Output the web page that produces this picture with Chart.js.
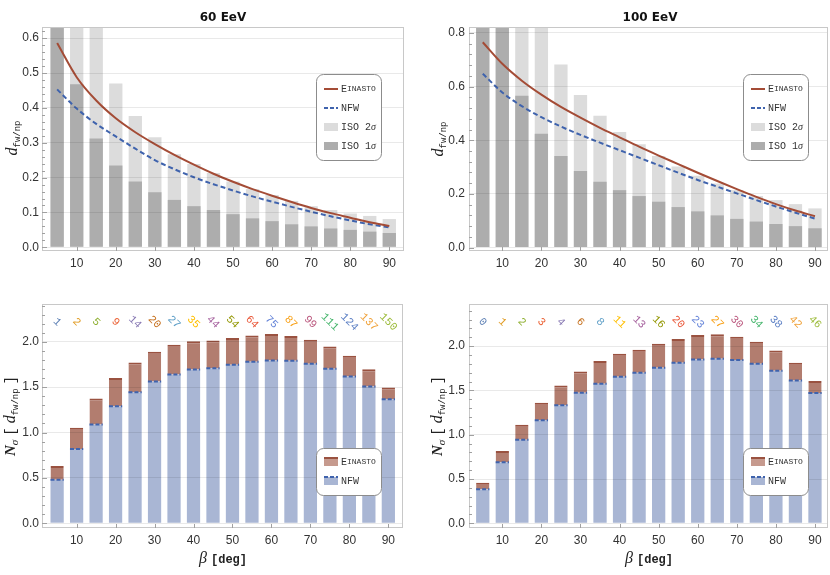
<!DOCTYPE html>
<html>
<head>
<meta charset="utf-8">
<script src="https://cdn.jsdelivr.net/npm/chart.js@4.4.1/dist/chart.umd.min.js"></script>
<style>
  body { margin: 0; background: #fff; width: 830px; height: 575px; position: relative; overflow: hidden; }
  .panel { position: absolute; }
  .ttl { position: absolute; transform: translate(-50%, -50%); font: bold 12px "DejaVu Sans", sans-serif; color: #111; white-space: nowrap; }
  .yl { position: absolute; transform: translate(-50%, -50%) rotate(-90deg); white-space: nowrap; color: #222; line-height: 12px; }
  .xl { position: absolute; transform: translate(-50%, -50%); white-space: nowrap; color: #222; }
  .it { font: italic 16px "Liberation Serif", serif; }
  .itb { font: italic bold 15px "Liberation Serif", serif; }
  .br { font: 14px "Liberation Mono", monospace; }
  .mono { font: bold 12px "Liberation Mono", monospace; }
  sub { font: 9px "Liberation Mono", monospace; vertical-align: -3px; line-height: 0; }
  sub.s { font: italic 11px "Liberation Serif", serif; }
</style>
</head>
<body>

<canvas id="c60" class="panel" width="415" height="280" style="left:0;top:0"></canvas>
<canvas id="c100" class="panel" width="415" height="280" style="left:415px;top:0"></canvas>
<canvas id="n60" class="panel" width="415" height="295" style="left:0;top:280px"></canvas>
<canvas id="n100" class="panel" width="415" height="295" style="left:415px;top:280px"></canvas>

<div class="ttl" style="left:223px;top:17px">60 EeV</div>
<div class="ttl" style="left:650px;top:17px">100 EeV</div>

<div class="yl" style="left:12px;top:138px"><span class="it">d</span><sub>fw/np</sub></div>
<div class="yl" style="left:438px;top:139px"><span class="it">d</span><sub>fw/np</sub></div>
<div class="yl" style="left:10px;top:416px"><span class="itb">N</span><sub class="s">σ</sub> <span class="br">[</span> <span class="it">d</span><sub>fw/np</sub> <span class="br">]</span></div>
<div class="yl" style="left:437px;top:416px"><span class="itb">N</span><sub class="s">σ</sub> <span class="br">[</span> <span class="it">d</span><sub>fw/np</sub> <span class="br">]</span></div>

<div class="xl" style="left:223px;top:558px"><span class="it">β</span> <span class="mono">[deg]</span></div>
<div class="xl" style="left:649px;top:558px"><span class="it">β</span> <span class="mono">[deg]</span></div>

<script>
// opening angle beta (deg)
const beta = [5, 10, 15, 20, 25, 30, 35, 40, 45, 50, 55, 60, 65, 70, 75, 80, 85, 90];
const xTickVals = [10, 20, 30, 40, 50, 60, 70, 80, 90];

// 60 EeV, d_fw/np
const iso1_60 = [0.94, 0.468, 0.312, 0.235, 0.189, 0.158, 0.136, 0.118, 0.107, 0.095, 0.083, 0.075, 0.066, 0.060, 0.054, 0.050, 0.045, 0.041];
const iso2_60 = [1.88, 0.94, 0.64, 0.470, 0.377, 0.316, 0.267, 0.239, 0.213, 0.189, 0.167, 0.150, 0.133, 0.118, 0.107, 0.097, 0.090, 0.081];
const ein_60 = [0.586, 0.488, 0.421, 0.370, 0.330, 0.296, 0.265, 0.237, 0.211, 0.188, 0.167, 0.148, 0.130, 0.113, 0.098, 0.085, 0.072, 0.061];
const nfw_60 = [0.453, 0.398, 0.354, 0.318, 0.283, 0.250, 0.224, 0.201, 0.181, 0.163, 0.146, 0.131, 0.116, 0.102, 0.089, 0.077, 0.066, 0.057];
const yTicks60 = [0, 0.1, 0.2, 0.3, 0.4, 0.5, 0.6];

// 100 EeV, d_fw/np
const iso1_100 = [1.70, 0.85, 0.566, 0.424, 0.341, 0.285, 0.245, 0.214, 0.192, 0.171, 0.151, 0.135, 0.120, 0.107, 0.097, 0.088, 0.080, 0.072];
const iso2_100 = [3.40, 1.70, 1.13, 0.85, 0.682, 0.569, 0.491, 0.431, 0.385, 0.341, 0.302, 0.268, 0.239, 0.214, 0.192, 0.177, 0.162, 0.146];
const ein_100 = [0.765, 0.685, 0.622, 0.570, 0.524, 0.484, 0.446, 0.411, 0.376, 0.343, 0.311, 0.279, 0.248, 0.218, 0.189, 0.162, 0.138, 0.117];
const nfw_100 = [0.648, 0.578, 0.527, 0.486, 0.451, 0.420, 0.391, 0.363, 0.335, 0.307, 0.279, 0.252, 0.227, 0.202, 0.177, 0.153, 0.130, 0.108];
const yTicks100 = [0, 0.2, 0.4, 0.6, 0.8];

// N_sigma
const nsEin60 = [0.630, 1.053, 1.374, 1.602, 1.772, 1.890, 1.967, 2.007, 2.015, 2.041, 2.070, 2.085, 2.063, 2.022, 1.948, 1.845, 1.698, 1.495];
const nsNfw60 = [0.479, 0.818, 1.087, 1.289, 1.444, 1.562, 1.639, 1.694, 1.709, 1.746, 1.779, 1.794, 1.790, 1.757, 1.702, 1.617, 1.506, 1.367];
const nsEin100 = [0.459, 0.816, 1.113, 1.361, 1.556, 1.714, 1.831, 1.914, 1.959, 2.026, 2.079, 2.124, 2.135, 2.105, 2.049, 1.951, 1.812, 1.605];
const nsNfw100 = [0.383, 0.688, 0.944, 1.162, 1.331, 1.474, 1.575, 1.654, 1.699, 1.756, 1.812, 1.850, 1.857, 1.842, 1.801, 1.722, 1.613, 1.470];
const yTicksNs = [0, 0.5, 1.0, 1.5, 2.0];

// event counts shown above the bars
const counts60 = [1, 2, 5, 9, 14, 20, 27, 35, 44, 54, 64, 75, 87, 99, 111, 124, 137, 150];
const counts100 = [0, 1, 2, 3, 4, 6, 8, 11, 13, 16, 20, 23, 27, 30, 34, 38, 42, 46];

const countColors = ['#5e81b5', '#e19c24', '#8fb032', '#eb6235', '#8778b3', '#c56e1a', '#5d9ec7', '#ffbf00', '#a5609d',
  '#929600', '#e95536', '#6685d9', '#f89f13', '#bc5b80', '#47b66d', '#5b7fc4', '#f0a23a', '#9cbb3a'];

const RED = '#a44c36', BLUE = '#3f63ad';
const pts = arr => beta.map((b, i) => ({ x: b, y: arr[i] }));

// frame + inward minor ticks
const framePlugin = {
  id: 'frame',
  afterDraw(chart, args, o) {
    const { ctx, chartArea: a, scales } = chart;
    ctx.save();
    ctx.strokeStyle = '#c8c8c8';
    ctx.lineWidth = 1;
    ctx.strokeRect(a.left + 0.5, a.top + 0.5, a.right - a.left - 1, a.bottom - a.top - 1);
    ctx.strokeStyle = '#a0a0a0';
    ctx.beginPath();
    const ys = scales.y;
    const n = Math.round(ys.max / o.minor);
    for (let k = 0; k <= n; k++) {
      const v = k * o.minor;
      const py = Math.round(ys.getPixelForValue(v)) + 0.5;
      if (py < a.top) continue;
      const major = Math.abs(v / o.major - Math.round(v / o.major)) < 1e-6;
      ctx.moveTo(a.left, py);
      ctx.lineTo(a.left + (major ? 5 : 3), py);
    }
    xTickVals.forEach(v => {
      const px = Math.round(scales.x.getPixelForValue(v)) + 0.5;
      ctx.moveTo(px, a.bottom);
      ctx.lineTo(px, a.bottom - 4);
    });
    ctx.stroke();
    ctx.restore();
  }
};

function scText(ctx, text, x, y, big, small) {
  // fake small caps for the legend labels
  for (const ch of text) {
    const up = ch === ch.toUpperCase();
    ctx.font = (up ? big : small) + 'px "Liberation Mono", monospace';
    ctx.fillText(ch.toUpperCase(), x, y);
    x += ctx.measureText(ch.toUpperCase()).width;
  }
  return x;
}

const boxLegendPlugin = {
  id: 'boxLegend',
  afterDraw(chart, args, o) {
    if (!o.items) return;
    const ctx = chart.ctx;
    ctx.save();
    ctx.beginPath();
    ctx.roundRect(o.x + 0.5, o.y + 0.5, o.w, o.h, 7);
    ctx.fillStyle = '#fff';
    ctx.fill();
    ctx.strokeStyle = '#8c8c8c';
    ctx.lineWidth = 1;
    ctx.stroke();
    o.items.forEach((it, i) => {
      const cy = o.y + o.first + i * o.gap;
      const sx = o.x + 8, sw = 14;
      if (it.kind === 'line') {
        ctx.strokeStyle = it.color;
        ctx.lineWidth = 2;
        ctx.setLineDash(it.dash || []);
        ctx.beginPath();
        ctx.moveTo(sx, cy);
        ctx.lineTo(sx + sw, cy);
        ctx.stroke();
        ctx.setLineDash([]);
      } else {
        ctx.fillStyle = it.color;
        ctx.fillRect(sx, cy - 4, sw, 8);
        if (it.top) {
          ctx.strokeStyle = it.top;
          ctx.lineWidth = 2;
          ctx.setLineDash(it.dash || []);
          ctx.beginPath();
          ctx.moveTo(sx, cy - 4);
          ctx.lineTo(sx + sw, cy - 4);
          ctx.stroke();
          ctx.setLineDash([]);
        }
      }
      ctx.fillStyle = '#333';
      ctx.textBaseline = 'middle';
      ctx.textAlign = 'left';
      let tx = sx + sw + 3;
      if (it.sigma) {
        ctx.font = '10px "Liberation Mono", monospace';
        ctx.fillText(it.label, tx, cy);
        tx += ctx.measureText(it.label).width;
        ctx.font = 'italic 10px "Liberation Serif", serif';
        ctx.fillText('σ', tx, cy);
      } else {
        scText(ctx, it.label, tx, cy, 10, 8);
      }
    });
    ctx.restore();
  }
};

const countsPlugin = {
  id: 'counts',
  afterDraw(chart, args, o) {
    if (!o.values) return;
    const { ctx, chartArea: a, scales } = chart;
    ctx.save();
    ctx.font = '11px "Liberation Mono", monospace';
    ctx.textAlign = 'center';
    ctx.textBaseline = 'middle';
    o.values.forEach((v, i) => {
      ctx.save();
      ctx.translate(scales.x.getPixelForValue(beta[i]), a.top + 18);
      ctx.rotate(Math.PI / 4);
      ctx.fillStyle = countColors[i % countColors.length];
      ctx.fillText(String(v), 0, 0);
      ctx.restore();
    });
    ctx.restore();
  }
};

const dashTopPlugin = {
  id: 'dashTop',
  afterDatasetsDraw(chart, args, o) {
    if (o.dataset === undefined) return;
    const ctx = chart.ctx;
    const meta = chart.getDatasetMeta(o.dataset);
    ctx.save();
    ctx.strokeStyle = BLUE;
    ctx.lineWidth = 2;
    ctx.setLineDash([4, 2]);
    meta.data.forEach(el => {
      ctx.beginPath();
      ctx.moveTo(el.x - el.width / 2, el.y);
      ctx.lineTo(el.x + el.width / 2, el.y);
      ctx.stroke();
    });
    ctx.restore();
  }
};

Chart.register(framePlugin, boxLegendPlugin, countsPlugin, dashTopPlugin);
Chart.defaults.font.family = '"Liberation Sans", Arial, sans-serif';
Chart.defaults.font.size = 12;
Chart.defaults.color = '#333';

function xScale(min, max) {
  return {
    type: 'linear', min: min, max: max, offset: false,
    grid: { display: false, drawTicks: false, offset: false },
    border: { display: false },
    afterBuildTicks: s => { s.ticks = xTickVals.map(v => ({ value: v })); },
    afterFit: s => { s.height = s.chart.height === 280 ? 29 : 47; },
    ticks: { padding: 5, maxRotation: 0, autoSkip: false, font: { size: 12 } }
  };
}

function yScale(min, max, ticks, width, pad) {
  return {
    min: min, max: max,
    grid: { color: 'rgba(0,0,0,0.085)', drawTicks: false, z: 1 },
    border: { display: false },
    afterBuildTicks: s => { s.ticks = ticks.map(v => ({ value: v })); },
    afterFit: s => { s.width = width; },
    ticks: { padding: pad, callback: v => v.toFixed(1), font: { size: 12 } }
  };
}

function topChart(id, iso1, iso2, ein, nfw, yTicks, yMin, yMax, xMin, xMax, yW, pad, padR, leg) {
  new Chart(document.getElementById(id), {
    type: 'bar',
    data: {
      datasets: [
        { type: 'line', label: 'Einasto', data: pts(ein), borderColor: RED, borderWidth: 2, pointRadius: 0, cubicInterpolationMode: 'monotone', order: 0 },
        { type: 'line', label: 'NFW', data: pts(nfw), borderColor: BLUE, borderWidth: 2, borderDash: [5, 3], pointRadius: 0, cubicInterpolationMode: 'monotone', order: 0 },
        { label: 'ISO 1σ', data: pts(iso1), backgroundColor: '#adadad', grouped: false, barPercentage: 0.68, categoryPercentage: 1, order: 1 },
        { label: 'ISO 2σ', data: pts(iso2), backgroundColor: '#dcdcdc', grouped: false, barPercentage: 0.68, categoryPercentage: 1, order: 2 }
      ]
    },
    options: {
      responsive: false,
      animation: false,
      layout: { padding: { top: 27, right: padR, left: 0, bottom: 0 } },
      scales: { x: xScale(xMin, xMax), y: yScale(yMin, yMax, yTicks, yW, pad) },
      plugins: {
        legend: { display: false },
        tooltip: { enabled: false },
        frame: { major: yTicks[1], minor: yTicks[1] / 5 },
        boxLegend: {
          x: leg, y: 74, w: 65, h: 86, first: 15, gap: 19,
          items: [
            { kind: 'line', color: RED, label: 'Einasto' },
            { kind: 'line', color: BLUE, dash: [4, 2], label: 'NFW' },
            { kind: 'rect', color: '#dcdcdc', label: 'ISO 2', sigma: true },
            { kind: 'rect', color: '#adadad', label: 'ISO 1', sigma: true }
          ]
        }
      }
    }
  });
}

function nsChart(id, ein, nfw, counts, yMax, xMin, xMax, yW, pad, padR, leg) {
  new Chart(document.getElementById(id), {
    type: 'bar',
    data: {
      datasets: [
        { label: 'Einasto', data: beta.map((b, i) => ({ x: b, y: [nfw[i], ein[i]] })), backgroundColor: '#b27d6f',
          borderColor: '#9a5240', borderWidth: { top: 2, left: 0, right: 0, bottom: 0 }, borderSkipped: false,
          grouped: false, barPercentage: 0.68, categoryPercentage: 1 },
        { label: 'NFW', data: beta.map((b, i) => ({ x: b, y: [0, nfw[i]] })), backgroundColor: '#a9b6d4',
          grouped: false, barPercentage: 0.68, categoryPercentage: 1 }
      ]
    },
    options: {
      responsive: false,
      animation: false,
      layout: { padding: { top: 24, right: padR, left: 0, bottom: 0 } },
      scales: { x: xScale(xMin, xMax), y: yScale(-0.053, yMax, yTicksNs, yW, pad) },
      plugins: {
        legend: { display: false },
        tooltip: { enabled: false },
        frame: { major: 0.5, minor: 0.1 },
        counts: { values: counts },
        dashTop: { dataset: 1 },
        boxLegend: {
          x: leg, y: 168, w: 65, h: 47, first: 14, gap: 19,
          items: [
            { kind: 'rect', color: '#c69a8e', top: '#9a5240', label: 'Einasto' },
            { kind: 'rect', color: '#a9b6d4', top: BLUE, dash: [4, 2], label: 'NFW' }
          ]
        }
      }
    }
  });
}

topChart('c60', iso1_60, iso2_60, ein_60, nfw_60, yTicks60, -0.0106, 0.632, 1.12, 93.76, 42, 3, 11, 316);
topChart('c100', iso1_100, iso2_100, ein_100, nfw_100, yTicks100, -0.0127, 0.822, 1.48, 93.33, 54, 4, 2, 328);
nsChart('n60', nsEin60, nsNfw60, counts60, 2.417, 1.12, 93.76, 42, 3, 12, 316);
nsChart('n100', nsEin100, nsNfw100, counts100, 2.475, 1.48, 93.33, 54, 4, 2, 328);
</script>
</body>
</html>
